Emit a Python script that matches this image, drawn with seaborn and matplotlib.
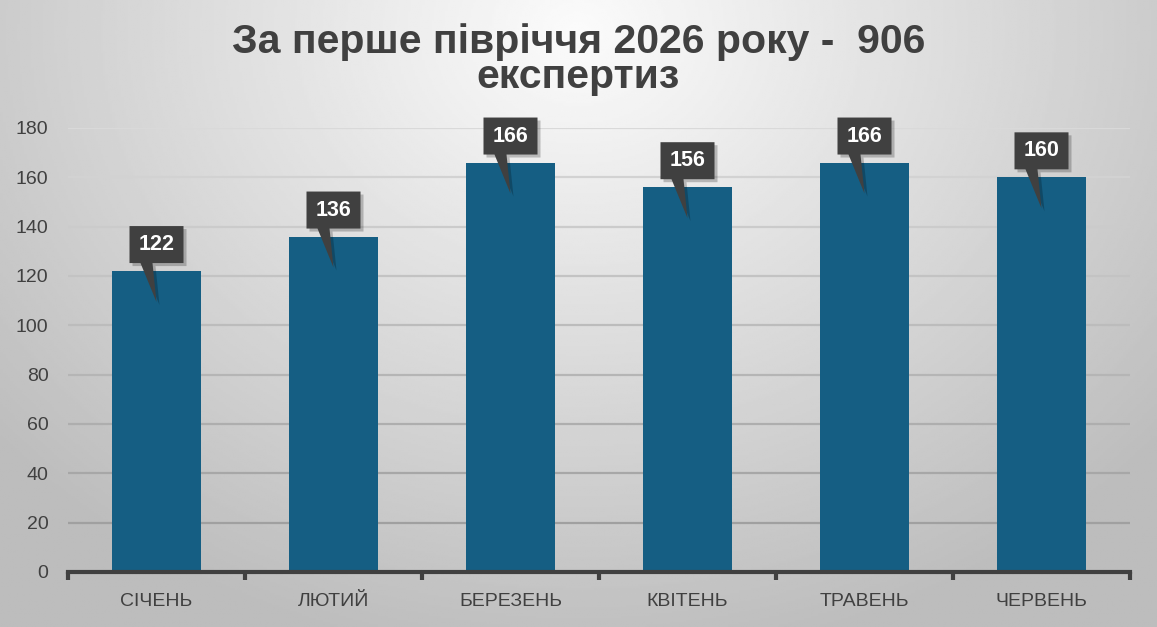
import numpy as np
import matplotlib
matplotlib.use("Agg")
import matplotlib.pyplot as plt
import matplotlib.transforms as mtransforms
from matplotlib.patches import Polygon
import seaborn as sns
import pandas as pd

months = ["СІЧЕНЬ", "ЛЮТИЙ", "БЕРЕЗЕНЬ", "КВІТЕНЬ", "ТРАВЕНЬ", "ЧЕРВЕНЬ"]
counts = [122, 136, 166, 156, 166, 160]
y_ticks = [0, 20, 40, 60, 80, 100, 120, 140, 160, 180]
title_lines = ["За перше півріччя 2026 року -  906", "експертиз"]

bar_color = "#155e83"
dark = "#404040"

sns.set_style("white")
plt.rcParams["font.family"] = ["Liberation Sans", "DejaVu Sans"]

df = pd.DataFrame({"month": months, "count": counts})

fig = plt.figure(figsize=(11.57, 6.27), dpi=100)

# radial grey background
bg = fig.add_axes([0, 0, 1, 1], zorder=-10)
yy, xx = np.mgrid[0:1:300j, 0:1:500j]
r = np.sqrt(((xx - 0.5) / 0.62) ** 2 + ((yy - 0.05) / 0.95) ** 2)
shade = np.clip(0.985 - 0.23 * r, 0.74, 1)
bg.imshow(shade, cmap="gray", vmin=0, vmax=1, aspect="auto", extent=[0, 1, 1, 0])
bg.axis("off")

ax = fig.add_axes([68 / 1157, 55 / 627, (1130 - 68) / 1157, (572 - 128) / 627])
ax.set_facecolor("none")

sns.barplot(data=df, x="month", y="count", color=bar_color, width=0.5,
            saturation=1, linewidth=0, edgecolor="none", ax=ax, zorder=3)

ax.set_xlim(-0.5, len(months) - 0.5)
ax.set_ylim(0, 180)
ax.set_yticks(y_ticks)
ax.set_xlabel("")
ax.set_ylabel("")

# gridlines get darker toward the bottom like the original
for t in y_ticks[1:]:
    g = 0.6 + 0.25 * t / 180
    ax.axhline(t, color=(g, g, g), lw=1.6, zorder=1)

for s in ["top", "right", "left"]:
    ax.spines[s].set_visible(False)
ax.spines["bottom"].set_color(dark)
ax.spines["bottom"].set_linewidth(3)
ax.spines["bottom"].set_zorder(4)

ax.tick_params(axis="y", length=0, pad=14, labelsize=14, labelcolor=dark)
ax.tick_params(axis="x", which="major", length=0, pad=15, labelsize=14, labelcolor=dark)
ax.set_xticks(np.arange(-0.5, len(months)), minor=True)
ax.tick_params(axis="x", which="minor", bottom=True, length=6, width=3, color=dark,
               direction="out")

# callout labels
for i, v in enumerate(counts):
    anchor = mtransforms.ScaledTranslation(i, v, ax.transData)
    pts = [(-27, 8), (-16, 8), (0, -31), (-4, 8), (27, 8), (27, 45), (-27, 45)]
    shadow = Polygon(pts, closed=True, fc="black", ec="none", alpha=0.22, clip_on=False,
                     transform=mtransforms.Affine2D().translate(3, -3) + anchor, zorder=5)
    box = Polygon(pts, closed=True, fc=dark, ec="none", clip_on=False,
                  transform=mtransforms.Affine2D() + anchor, zorder=6)
    ax.add_patch(shadow)
    ax.add_patch(box)
    ax.annotate(str(v), xy=(i, v), xytext=(0, 26.5 * 0.72), textcoords="offset points",
                ha="center", va="center", color="white", fontsize=15.5,
                fontweight="bold", zorder=7, annotation_clip=False)

for k, line in enumerate(title_lines):
    fig.text(0.5, 1 - (53 + 35 * k) / 627, line, ha="center", va="baseline",
             fontsize=29.5, fontweight="bold", color=dark)

fig.savefig("out.png", dpi=100)
